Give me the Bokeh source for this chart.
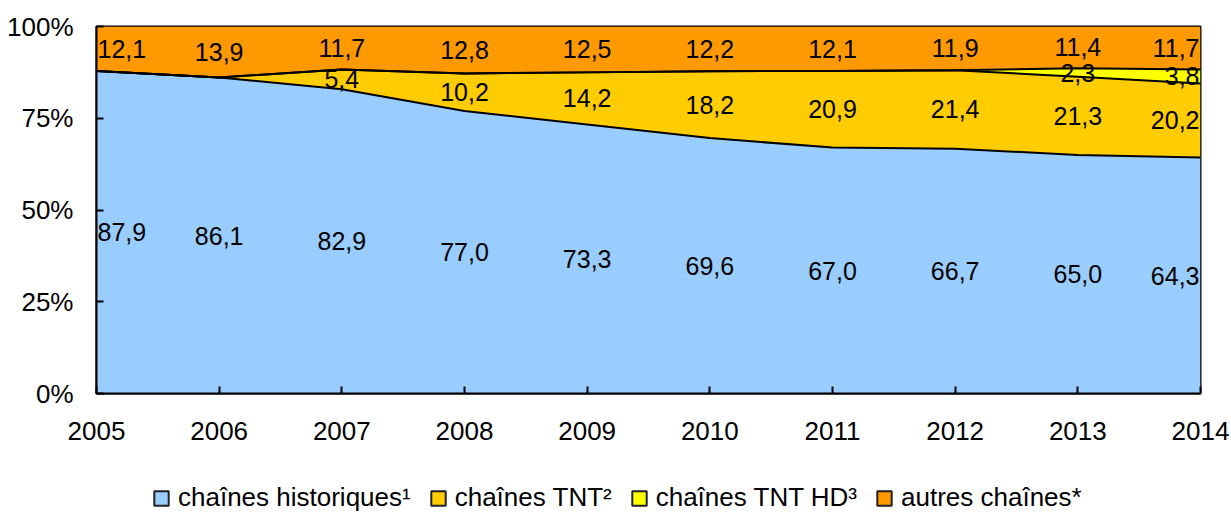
from bokeh.plotting import figure
from bokeh.layouts import column
from bokeh.models import (ColumnDataSource, FixedTicker, PrintfTickFormatter, Legend, LegendItem,
                          Range1d)
from bokeh.core.properties import value
from bokeh.embed import file_html
from bokeh.resources import INLINE

years = [2005, 2006, 2007, 2008, 2009, 2010, 2011, 2012, 2013, 2014]
historiques = [87.9, 86.1, 82.9, 77.0, 73.3, 69.6, 67.0, 66.7, 65.0, 64.3]
tnt = [0, 0, 5.4, 10.2, 14.2, 18.2, 20.9, 21.4, 21.3, 20.2]
tnt_hd = [0, 0, 0, 0, 0, 0, 0, 0, 2.3, 3.8]
autres = [12.1, 13.9, 11.7, 12.8, 12.5, 12.2, 12.1, 11.9, 11.4, 11.7]

series_names = ["chaînes historiques¹", "chaînes TNT²", "chaînes TNT HD³", "autres chaînes*"]
colors = ["#99CCFF", "#FFCC00", "#FFFF00", "#FF9900"]
y_ticks = [0, 25, 50, 75, 100]

FONT = "Liberation Sans"

p = figure(width=1231, height=473, output_backend="svg", toolbar_location=None,
           x_range=Range1d(years[0], years[-1]), y_range=Range1d(0, 100),
           min_border_left=96, min_border_right=31, min_border_top=26, min_border_bottom=80)
p.background_fill_color = "white"
p.border_fill_color = "white"
p.outline_line_color = "black"
p.outline_line_width = 2
p.xgrid.visible = False
p.ygrid.visible = False

series = [historiques, tnt, tnt_hd, autres]
bottoms = [0.0] * len(years)
label_x, label_y, label_t, label_align, label_off = [], [], [], [], []
tops_list = []
for vals, col in zip(series, colors):
    tops = [b + v for b, v in zip(bottoms, vals)]
    src = ColumnDataSource(dict(x=years, y1=bottoms, y2=tops))
    p.varea(x="x", y1="y1", y2="y2", source=src, fill_color=col)
    tops_list.append(tops)
    for i, (yr, b, v) in enumerate(zip(years, bottoms, vals)):
        if v > 0:
            label_x.append(yr)
            label_y.append(b + v / 2)
            label_t.append(f"{v:.1f}".replace(".", ","))
            if i == 0:
                label_align.append("left"); label_off.append(1)
            elif i == len(years) - 1:
                label_align.append("right"); label_off.append(-1)
            else:
                label_align.append("center"); label_off.append(0)
    bottoms = tops

# boundary lines
for tops in tops_list[:-1]:
    p.line(years, tops, line_color="black", line_width=2)

lsrc = ColumnDataSource(dict(x=label_x, y=label_y, t=label_t, a=label_align, o=label_off))
p.text(x="x", y="y", text="t", source=lsrc, text_align="a", x_offset="o",
       text_baseline="middle", text_font=value(FONT), text_font_size="25px", text_color="black")

# axes
p.xaxis.ticker = FixedTicker(ticks=years)
p.yaxis.ticker = FixedTicker(ticks=y_ticks)
p.yaxis.formatter = PrintfTickFormatter(format="%d%%")
for ax in (p.xaxis[0], p.yaxis[0]):
    ax.axis_line_color = "black"
    ax.axis_line_width = 2
    ax.major_tick_in = 7
    ax.major_tick_out = 0
    ax.major_tick_line_width = 2
    ax.minor_tick_line_color = None
    ax.major_label_text_font = FONT
    ax.major_label_text_font_size = "26px"
    ax.major_label_text_color = "black"
p.xaxis.major_label_standoff = 28
p.yaxis.major_label_standoff = 23

# legend in a separate strip below the chart (its frame is aligned with the chart frame)
lf = figure(width=1231, height=40, output_backend="svg", toolbar_location=None,
            x_range=Range1d(0, 1), y_range=Range1d(0, 1),
            x_axis_location=None, y_axis_location=None,
            min_border_left=0, min_border_right=0, min_border_top=0, min_border_bottom=0)
lf.outline_line_color = None
lf.xgrid.visible = False
lf.ygrid.visible = False
nan = float("nan")
items = []
for name, col in zip(series_names, colors):
    r = lf.quad(left=[nan], right=[nan], top=[nan], bottom=[nan],
                fill_color=col, line_color="#222222", line_width=2)
    items.append(LegendItem(label=name, renderers=[r]))
legend = Legend(items=items, orientation="horizontal", location=(56, 0),
                glyph_width=18, glyph_height=18, label_standoff=8, spacing=18,
                padding=0, margin=0, border_line_color=None, background_fill_alpha=0,
                label_text_font=FONT, label_text_font_size="26px",
                label_text_color="black")
lf.add_layout(legend, "center")

layout = column(p, lf, spacing=0)
open("out.html", "w").write(file_html(layout, INLINE))
